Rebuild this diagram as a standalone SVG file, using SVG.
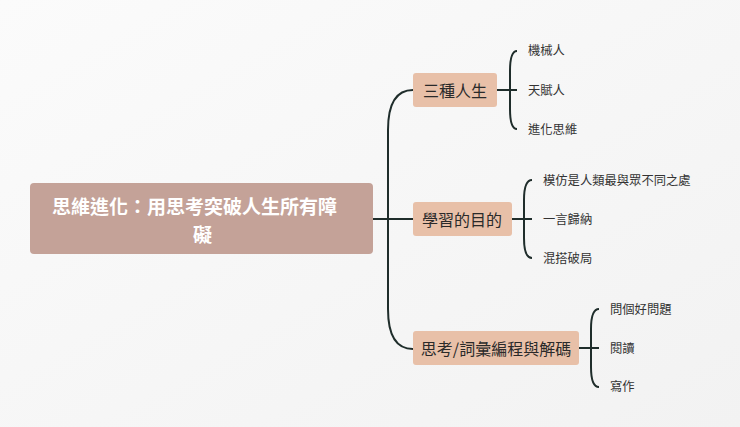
<svg xmlns="http://www.w3.org/2000/svg" width="740" height="427" viewBox="0 0 740 427">
<defs>
<linearGradient id="bg" x1="0" y1="0" x2="1" y2="1"><stop offset="0" stop-color="#fbfbfb"/><stop offset="1" stop-color="#f2f2f2"/></linearGradient>
</defs>
<style>
.c{fill:none;stroke:#1f2d2b;stroke-width:2}
.m{fill:#e8c0a8}
.mt{font-family:"Noto Sans CJK TC","Liberation Sans",sans-serif;font-size:16px;fill:#2a2a2a;text-anchor:middle;dominant-baseline:central}
.l{font-family:"Noto Sans CJK TC","Liberation Sans",sans-serif;font-size:12.3px;fill:#333;dominant-baseline:central}
</style>
<rect width="740" height="427" fill="url(#bg)"/>
<g id="connectors">
<path class="c" d="M373 219H413 M388 219V130Q388 90 413 90 M388 219V309Q388 349 413 349"/>
<path class="c" d="M497 90H517 M510 90V71Q510 51 517 51 M510 90V109Q510 129 517 129"/>
<path class="c" d="M512 219H532 M524 219V200Q524 180 532 180 M524 219V238Q524 258 532 258"/>
<path class="c" d="M579 348H599 M591 348V329Q591 309 599 309 M591 348V367Q591 387 599 387"/>
</g>
<g id="root"><rect x="30" y="183" width="343" height="71" rx="4" fill="#c4a298"/>
<text font-family="Noto Sans CJK TC,Liberation Sans,sans-serif" font-size="19" font-weight="bold" fill="#fff"><tspan x="52" y="214">思維進化：用思考突破人生所有障</tspan><tspan x="193" y="242">礙</tspan></text></g>
<g id="n1"><rect class="m" x="413" y="73" width="84" height="34" rx="3"/><text class="mt" x="455" y="90">三種人生</text></g>
<g id="n2"><rect class="m" x="413" y="202" width="99" height="34" rx="3"/><text class="mt" x="462" y="219">學習的目的</text></g>
<g id="n3"><rect class="m" x="413" y="331" width="166" height="34" rx="3"/><text class="mt" x="496" y="348">思考/詞彙編程與解碼</text></g>
<g id="n1a"><text class="l" x="528" y="50">機械人</text></g>
<g id="n1b"><text class="l" x="528" y="90">天賦人</text></g>
<g id="n1c"><text class="l" x="528" y="129">進化思維</text></g>
<g id="n2a"><text class="l" x="543" y="180">模仿是人類最與眾不同之處</text></g>
<g id="n2b"><text class="l" x="543" y="219">一言歸納</text></g>
<g id="n2c"><text class="l" x="543" y="258">混搭破局</text></g>
<g id="n3a"><text class="l" x="610" y="309">問個好問題</text></g>
<g id="n3b"><text class="l" x="610" y="348">閱讀</text></g>
<g id="n3c"><text class="l" x="610" y="386">寫作</text></g>
</svg>
